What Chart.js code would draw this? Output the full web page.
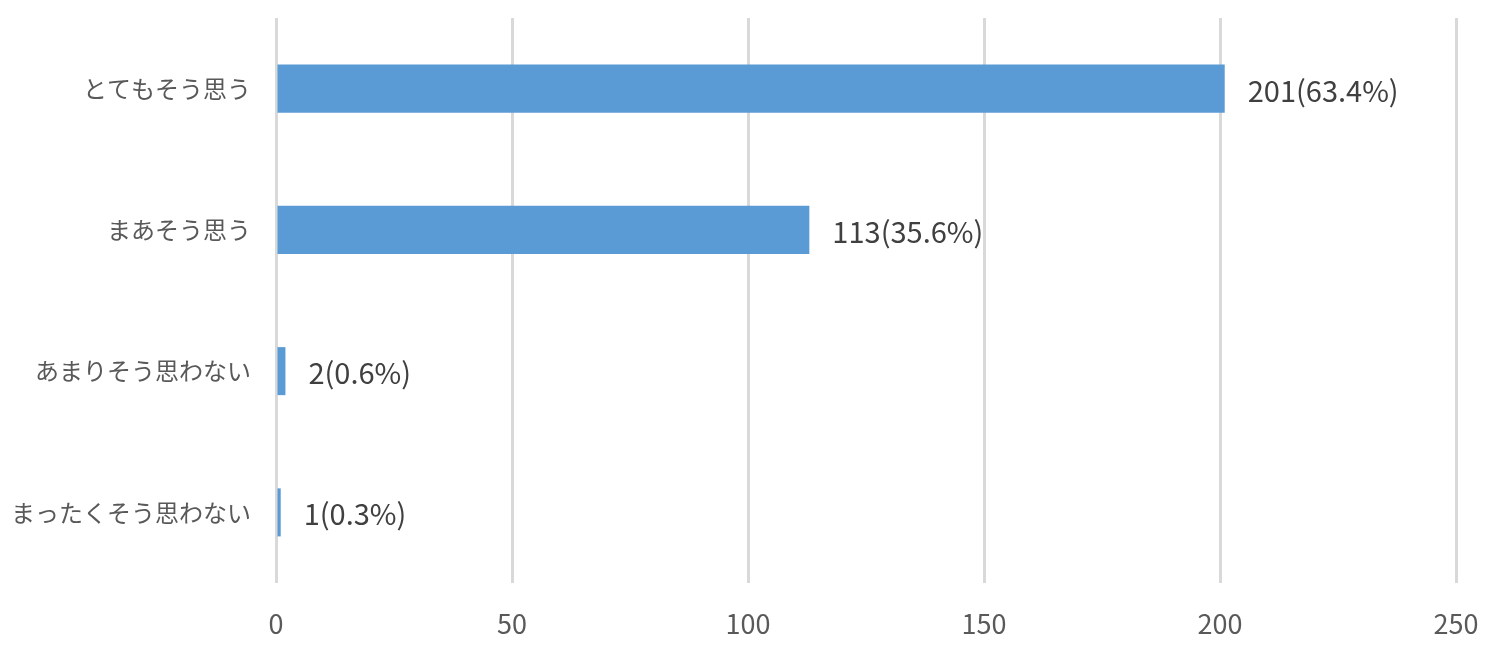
<!DOCTYPE html>
<html lang="ja">
<head>
    <meta charset="UTF-8">
    <title>Bar Chart</title>
    <script src="https://cdn.jsdelivr.net/npm/chart.js"></script>
    <style>
        body { margin: 0; background: #fff; }
        .container { width: 1510px; height: 657px; }
    </style>
</head>
<body>
    <div class="container"><canvas id="chart"></canvas></div>

    <script>
        const categories = ['とてもそう思う', 'まあそう思う', 'あまりそう思わない', 'まったくそう思わない'];
        const counts = [201, 113, 2, 1];
        const percents = ['63.4%', '35.6%', '0.6%', '0.3%'];
        const xTicks = [0, 50, 100, 150, 200, 250];

        const fontFamily = '"Noto Sans CJK JP", "Noto Sans", sans-serif';

        // value labels to the right of each bar
        const barLabels = {
            id: 'barLabels',
            afterDatasetsDraw(chart) {
                const ctx = chart.ctx;
                const meta = chart.getDatasetMeta(0);
                ctx.save();
                ctx.font = '29px ' + fontFamily;
                ctx.fillStyle = '#404040';
                ctx.textBaseline = 'middle';
                ctx.textAlign = 'left';
                meta.data.forEach((bar, i) => {
                    ctx.fillText(`${counts[i]}(${percents[i]})`, bar.x + 23, bar.y + 2);
                });
                ctx.restore();
            }
        };

        new Chart(document.getElementById('chart').getContext('2d'), {
            type: 'bar',
            data: {
                labels: categories,
                datasets: [{
                    data: counts,
                    backgroundColor: '#5b9bd5',
                    borderWidth: 0,
                    barPercentage: 0.34,
                    categoryPercentage: 1
                }]
            },
            options: {
                indexAxis: 'y',
                responsive: true,
                maintainAspectRatio: false,
                animation: false,
                layout: { padding: { top: 18, right: 54, bottom: 0, left: 0 } },
                plugins: {
                    legend: { display: false },
                    tooltip: { enabled: false }
                },
                scales: {
                    x: {
                        min: 0,
                        max: 250,
                        afterBuildTicks: axis => { axis.ticks = xTicks.map(v => ({ value: v })); },
                        afterFit: axis => { axis.height = 74; },
                        grid: { color: '#d9d9d9', lineWidth: 3, drawTicks: false },
                        border: { display: false },
                        ticks: {
                            padding: 25,
                            color: '#595959',
                            font: { family: fontFamily, size: 27 }
                        }
                    },
                    y: {
                        afterFit: axis => {
                            axis.width = 276;
                            axis.paddingTop = 0;
                            axis.paddingBottom = 0;
                        },
                        grid: { display: false },
                        border: { display: false },
                        ticks: {
                            padding: 17,
                            color: '#595959',
                            font: { family: fontFamily, size: 24 }
                        }
                    }
                }
            },
            plugins: [barLabels]
        });
    </script>
</body>
</html>
